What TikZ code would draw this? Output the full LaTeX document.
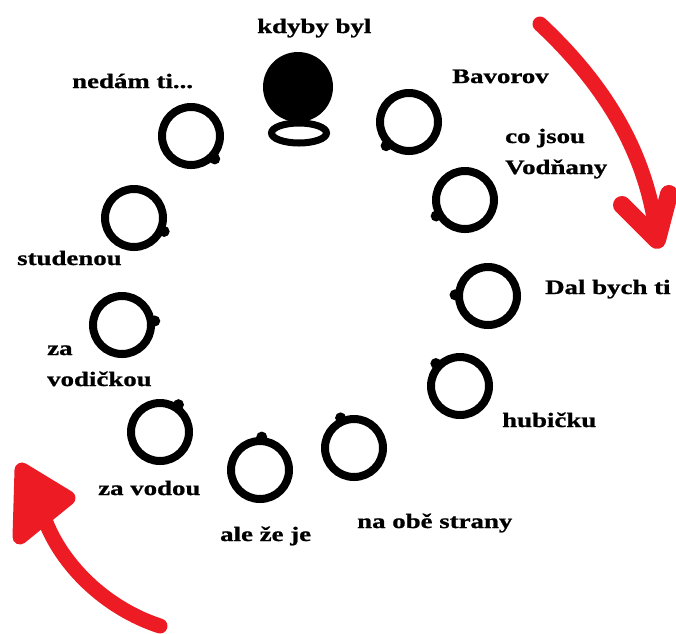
\documentclass[tikz,border=0pt]{standalone}
\usepackage{fontspec}
\setmainfont{Liberation Serif}[FakeStretch=1.31,FakeBold=1]
\usetikzlibrary{shapes.geometric}
\definecolor{arrowred}{RGB}{237,28,36}
\tikzset{
  ring/.style={circle, draw=black, line width=8pt, inner sep=0pt, minimum size=58pt},
  lbl/.style={inner sep=0pt, anchor=base west, font=\fontsize{20.5}{24}\selectfont\bfseries, align=left},
  redline/.style={draw=arrowred, line width=15pt, line cap=round, line join=round},
}
\newcommand{\bump}[2]{\fill (#1.#2) circle (5.5pt);}
\begin{document}
\begin{tikzpicture}[x=1pt,y=-1pt]
\useasboundingbox (0,0) rectangle (676,633);
% head (filled) and collar
\node[circle, fill=black, inner sep=0pt, minimum width=70pt, minimum height=67pt] (head) at (298,87) {};
\node[ellipse, draw=black, line width=7pt, inner sep=0pt, minimum width=55pt, minimum height=20pt] (collar) at (299,133) {};
% rings
\node[ring] (bav) at (409,122) {};
\node[ring] (ned) at (191,136) {};
\node[ring] (cojs) at (465,200) {};
\node[ring] (stu) at (134,218) {};
\node[ring] (dal) at (488,296) {};
\node[ring] (zavd) at (122,325) {};
\node[ring] (hub) at (460,386) {};
\node[ring] (zav) at (160,432) {};
\node[ring] (nao) at (354,448) {};
\node[ring] (ale) at (260,470) {};
% bumps
\bump{ned}{-44}
\bump{stu}{-24}
\bump{zavd}{7}
\bump{zav}{56}
\bump{ale}{87}
\bump{nao}{114}
\bump{hub}{137}
\bump{dal}{178}
\bump{cojs}{209}
\bump{bav}{226}
% labels
\node[lbl] (t1) at (257,33) {kdyby byl};
\node[lbl] (t2) at (72,88) {nedám ti...};
\node[lbl] (t3) at (452,83) {Bavorov};
\node[lbl] (t4) at (505,143) {co jsou};
\node[lbl] (t5) at (505,174) {Vodňany};
\node[lbl] (t6) at (545,294) {Dal bych ti};
\node[lbl] (t7) at (17,265) {studenou};
\node[lbl] (t8) at (47,355) {za};
\node[lbl] (t9) at (47,386) {vodičkou};
\node[lbl] (t10) at (502,427) {hubičku};
\node[lbl] (t11) at (98,495) {za vodou};
\node[lbl] (t12) at (357,528) {na obě strany};
\node[lbl] (t13) at (220,541) {ale že je};
% red arrows
\coordinate (a1s) at (540,24);
\coordinate (a1t) at (657,240);
\coordinate (a1l) at (622,205);
\coordinate (a1r) at (669,194);
\draw[redline] (a1s) .. controls (600,80) and (648,150) .. (a1t);
\draw[redline, line width=18pt] (a1l) -- (a1t) -- (a1r);
\coordinate (a2s) at (160,626);
\coordinate (a2e) at (45,520);
\coordinate (a2t) at (22,470);
\coordinate (a2l) at (20,537);
\coordinate (a2r) at (68,498);
\draw[redline] (a2s) .. controls (105,608) and (62,565) .. (a2e);
\fill[arrowred] (a2l) -- (a2t) -- (a2r) -- cycle;
\draw[redline] (a2l) -- (a2t) -- (a2r) -- cycle;
\end{tikzpicture}
\end{document}
